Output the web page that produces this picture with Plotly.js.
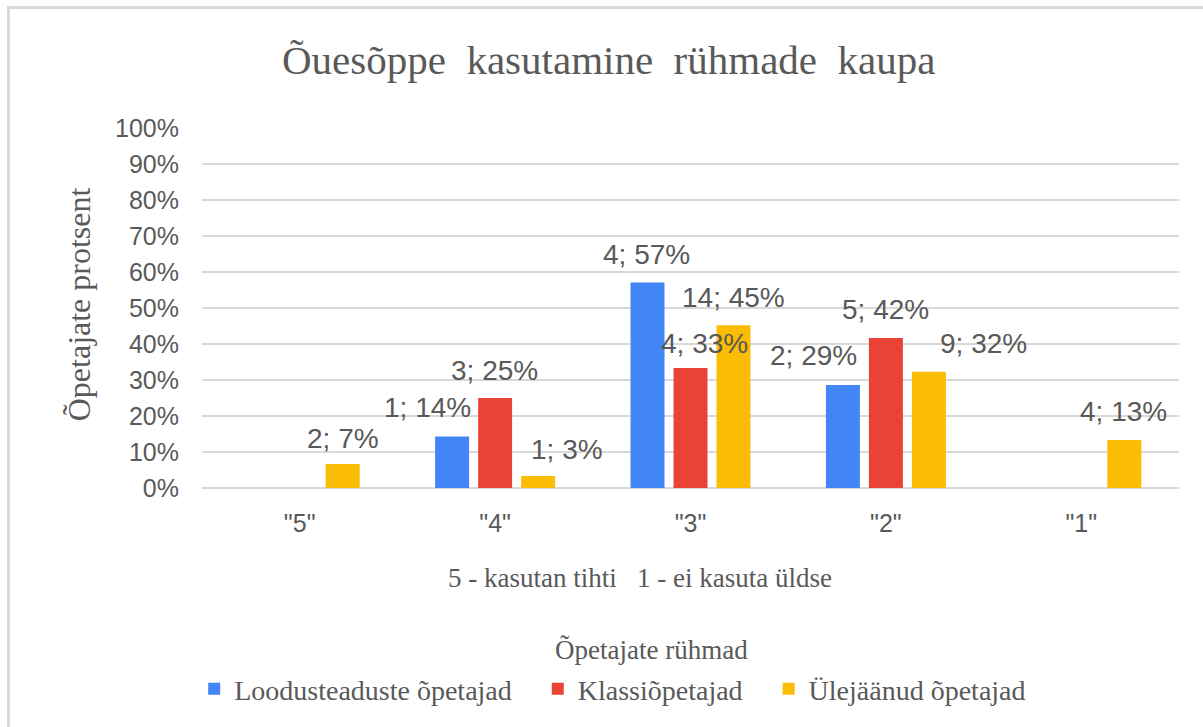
<!DOCTYPE html>
<html>
<head>
<meta charset="utf-8">
<script src="https://cdn.plot.ly/plotly-3.0.1.min.js"></script>
<style>
  html, body { margin: 0; padding: 0; background: #fff; }
  #wrap { position: relative; width: 1203px; height: 727px; overflow: hidden; }
  #chart { position: absolute; left: 0; top: 0; width: 1203px; height: 727px; }
  #frame { position: absolute; left: 7px; top: 6px; width: 1300px; height: 800px;
           border-top: 3px solid #d9d9d9; border-left: 3px solid #d9d9d9; pointer-events: none; }
</style>
</head>
<body>
<div id="wrap">
  <div id="chart"></div>
  <div id="frame"></div>
</div>
<script>
// ---- data ----
const categories = ['"5"', '"4"', '"3"', '"2"', '"1"'];
const seriesNames = ['Loodusteaduste õpetajad', 'Klassiõpetajad', 'Ülejäänud õpetajad'];
const loodusValues = [0, 14.3, 57.1, 28.6, 0];
const klassiValues = [0, 25.0, 33.3, 41.7, 0];
const ylejaanudValues = [6.7, 3.3, 45.2, 32.3, 13.3];
const loodusLabels = [null, '1; 14%', '4; 57%', '2; 29%', null];
const klassiLabels = [null, '3; 25%', '4; 33%', '5; 42%', null];
const ylejaanudLabels = ['2; 7%', '1; 3%', '14; 45%', '9; 32%', '4; 13%'];
const yTickVals = [0, 10, 20, 30, 40, 50, 60, 70, 80, 90, 100];
const yTickText = ['0%', '10%', '20%', '30%', '40%', '50%', '60%', '70%', '80%', '90%', '100%'];

// ---- styling ----
const colors = ['#4285F4', '#EA4335', '#FBBC04'];
const textColor = '#595959';
const serif = '"Liberation Serif", "Times New Roman", serif';
const sans = '"Liberation Sans", Arial, sans-serif';
const legendPad = '\u00A0\u00A0\u00A0';

// label nudges (px) relative to each bar's top centre: [dx, up]
const labelNudge = [
  [[0, 0], [-25, 29], [-1, 28], [-29, 30], [0, 0]],
  [[0, 0], [-1, 28], [14, 25], [0, 28], [0, 0]],
  [[0, 25], [29, 27], [0, 28], [55, 28], [-1, 29]]
];

const W = 1203, H = 727;
const margin = { l: 202, r: 24, t: 128, b: 239 };
const bargap = 0.34, bargroupgap = 0.21;
const plotW = W - margin.l - margin.r;
const slotPx = plotW / categories.length * (1 - bargap) / 3;

const values = [loodusValues, klassiValues, ylejaanudValues];
const labels = [loodusLabels, klassiLabels, ylejaanudLabels];

const traces = values.map((v, i) => ({
  type: 'bar',
  name: seriesNames[i] + (i < values.length - 1 ? legendPad : ''),
  x: categories,
  y: v,
  marker: { color: colors[i], line: { width: 0 } },
  hoverinfo: 'skip'
}));

const annotations = [];
labels.forEach((arr, s) => {
  arr.forEach((t, c) => {
    if (!t) return;
    annotations.push({
      x: categories[c], y: values[s][c], xref: 'x', yref: 'y',
      text: t, showarrow: false,
      xanchor: 'center', yanchor: 'middle',
      xshift: (s - 1) * slotPx + labelNudge[s][c][0],
      yshift: labelNudge[s][c][1],
      font: { family: sans, size: 28, color: textColor }
    });
  });
});

// axis annotation titles
annotations.push({
  xref: 'paper', yref: 'paper', x: -0.125, y: 0.51,
  text: 'Õpetajate protsent', textangle: -90, showarrow: false,
  xanchor: 'center', yanchor: 'middle',
  font: { family: serif, size: 32, color: textColor }
});
annotations.push({
  xref: 'paper', yref: 'paper', x: 0.448, y: -0.25,
  text: '5 - kasutan tihti\u00A0\u00A0 1 - ei kasuta üldse', showarrow: false,
  xanchor: 'center', yanchor: 'middle',
  font: { family: serif, size: 27, color: textColor }
});
annotations.push({
  xref: 'paper', yref: 'paper', x: 0.46, y: -0.45,
  text: 'Õpetajate rühmad', showarrow: false,
  xanchor: 'center', yanchor: 'middle',
  font: { family: serif, size: 27, color: textColor }
});

const layout = {
  width: W, height: H,
  margin: margin,
  paper_bgcolor: '#ffffff',
  plot_bgcolor: '#ffffff',
  barmode: 'group',
  bargap: bargap,
  bargroupgap: bargroupgap,
  title: {
    text: 'Õuesõppe\u00A0 kasutamine\u00A0 rühmade\u00A0 kaupa',
    x: 0.506, xref: 'container', xanchor: 'center',
    y: 1 - 60 / H, yref: 'container', yanchor: 'middle',
    font: { family: serif, size: 41, color: textColor }
  },
  xaxis: {
    type: 'category',
    showgrid: false, zeroline: false, showline: false, ticks: '',
    ticklabelstandoff: 18,
    tickfont: { family: sans, size: 25, color: textColor },
    fixedrange: true
  },
  yaxis: {
    range: [0, 100],
    tickvals: yTickVals, ticktext: yTickText,
    showgrid: true, gridcolor: '#d9d9d9', gridwidth: 1.5,
    zeroline: true, zerolinecolor: '#d9d9d9', zerolinewidth: 1.5,
    showline: false, ticks: '',
    ticklabelstandoff: 22,
    tickfont: { family: sans, size: 25, color: textColor },
    fixedrange: true
  },
  showlegend: true,
  legend: {
    orientation: 'h',
    x: -0.008, xanchor: 'left',
    y: -0.489, yanchor: 'top',
    font: { family: serif, size: 28, color: textColor },
    itemwidth: 30,
    traceorder: 'normal'
  },
  annotations: annotations
};

Plotly.newPlot('chart', traces, layout, { displayModeBar: false, staticPlot: true });
</script>
</body>
</html>
